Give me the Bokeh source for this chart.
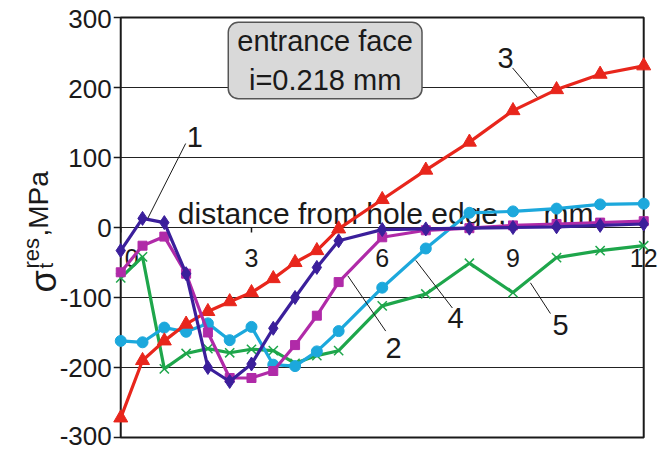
import numpy as np
from bokeh.plotting import figure
from bokeh.models import Range1d
from bokeh.core.properties import value
from bokeh.embed import file_html
from bokeh.resources import INLINE

# ---------------- data ----------------
distance = [0, 0.5, 1, 1.5, 2, 2.5, 3, 3.5, 4, 4.5, 5, 6, 7, 8, 9, 10, 11, 12]
curve1 = [-33, 13, 7, -66, -200, -220, -195, -144, -100, -57, -19, -3, -2, -1, 0, 1, 3, 5]
curve2 = [-64, -26, -13, -66, -150, -215, -215, -205, -168, -126, -78, -14, -4, -1, 3, 5, 7, 9]
curve3 = [-272, -190, -162, -138, -120, -106, -93, -73, -50, -33, -2, 40, 82, 122, 167, 197, 219, 231]
curve4 = [-162, -164, -143, -149, -137, -161, -142, -196, -198, -177, -148, -86, -30, 21, 23, 27, 33, 34]
curve5 = [-72, -42, -202, -180, -173, -179, -174, -176, -194, -183, -176, -112, -95, -51, -93, -43, -33, -26]

y_ticks = [-300, -200, -100, 0, 100, 200, 300]
y_tick_labels = ["-300", "-200", "-100", "0", "100", "200", "300"]
x_ticks = [0, 3, 6, 9, 12]
x_tick_labels = ["0", "3", "6", "9", "12"]

curve_names = ["1", "2", "3", "4", "5"]
# annotation number positions and leader lines (data coords)
name_x = [1.70, 6.26, 8.83, 7.68, 10.09]
name_y = [130, -172, 242, -130, -140]
lead_x0 = [1.49, 5.21, 8.99, 6.77, 9.40]
lead_y0 = [120, -69, 228, -47, -79]
lead_x1 = [0.62, 6.08, 9.56, 7.61, 9.86]
lead_y1 = [13, -148, 186, -115, -123]

FONT = "Liberation Sans"
INK = "#1a1a1a"

# the frame covers the whole canvas; the ranges place the chart box where it belongs
p = figure(width=661, height=450,
           x_range=Range1d(-2.759, 12.408), y_range=Range1d(-318.6, 324.3),
           output_backend="svg", toolbar_location=None,
           x_axis_location=None, y_axis_location=None, title=None,
           min_border_left=0, min_border_right=0,
           min_border_top=0, min_border_bottom=0)
p.outline_line_color = None
p.grid.visible = False
p.background_fill_color = "white"
p.border_fill_color = "white"

# horizontal grid lines and chart box
p.segment(x0=x_ticks[0], x1=x_ticks[-1], y0=y_ticks[1:-1], y1=y_ticks[1:-1],
          line_color="#222222", line_width=1.2)
p.quad(left=[x_ticks[0]], right=[x_ticks[-1]], bottom=[y_ticks[0]], top=[y_ticks[-1]],
       fill_color=None, line_color=INK, line_width=2)

# y axis ticks and labels (axis line is the box's left edge at x = 0)
p.ray(x=x_ticks[0], y=y_ticks, length=7, length_units="screen", angle=np.pi,
      line_color=INK, line_width=1.5)
p.text(x=x_ticks[0], y=y_ticks[1:], text=y_tick_labels[1:], text_align="right",
       text_baseline="middle", x_offset=-9, y_offset=1, text_font=value(FONT),
       text_font_size="26px", text_color=INK)
p.text(x=x_ticks[0], y=y_ticks[:1], text=y_tick_labels[:1], text_align="right",
       text_baseline="bottom", x_offset=-9, y_offset=8, text_font=value(FONT),
       text_font_size="26px", text_color=INK)

# x ticks at y = 0
p.ray(x=x_ticks, y=0, length=5, length_units="screen", angle=-np.pi / 2,
      line_color=INK, line_width=1.5)
p.text(x=x_ticks[1:], y=0, text=x_tick_labels[1:], text_align="center",
       text_baseline="alphabetic", y_offset=31, text_font=value(FONT),
       text_font_size="25px", text_color=INK)
p.text(x=x_ticks[:1], y=0, text=x_tick_labels[:1], text_align="center",
       text_baseline="alphabetic", x_offset=11, y_offset=31, text_font=value(FONT),
       text_font_size="25px", text_color=INK)

# x axis title inside plot
p.text(x=[1.31], y=[20], text=["distance from hole edge,"], text_align="left",
       text_baseline="alphabetic", text_font=value(FONT), text_font_size="30px",
       text_color=INK)
p.text(x=[9.70], y=[20], text=["mm"], text_align="left",
       text_baseline="alphabetic", text_font=value(FONT), text_font_size="30px",
       text_color=INK)

# series
lw = 3.2
p.line(distance, curve5, line_color="#1ea64b", line_width=lw)
p.scatter(distance, curve5, marker="x", size=13, line_color="#1ea64b", line_width=1.5)
p.line(distance, curve4, line_color="#1ca8dc", line_width=lw)
p.scatter(distance, curve4, marker="circle", size=11, fill_color="#1ca8dc", line_color="#1ca8dc")
p.line(distance, curve3, line_color="#e8261c", line_width=lw)
p.scatter(distance, curve3, marker="triangle", size=14, fill_color="#e8261c", line_color="#e8261c")
p.line(distance, curve2, line_color="#b02aa8", line_width=lw)
p.scatter(distance, curve2, marker="square", size=9, fill_color="#b02aa8", line_color="#b02aa8")
p.line(distance, curve1, line_color="#3b1f9b", line_width=lw)
p.scatter(distance, curve1, marker="diamond", size=14, fill_color="#3b1f9b", line_color="#3b1f9b")

# leader lines and curve numbers
p.segment(x0=lead_x0, y0=lead_y0, x1=lead_x1, y1=lead_y1, line_color=INK, line_width=1)
p.text(x=name_x, y=name_y, text=curve_names, text_align="center", text_baseline="middle",
       text_font=value(FONT), text_font_size="29px", text_color=INK)

# info box
p.text(x=[4.69], y=[238.5], text=["entrance face\ni=0.218 mm"], text_align="center",
       text_baseline="middle", text_font=value(FONT), text_font_size="29px",
       text_color=INK, text_line_height=1.2,
       background_fill_color="#d9d9d9", border_line_color="#555555",
       border_line_width=1.5, border_radius=10, padding=(9, 3))

# y axis title (rotated), built from pieces: sigma, superscript, subscript, unit
p.text(x=[-1.773], y=[-92.9], text=["σ"], angle=np.pi / 2, text_align="left",
       text_baseline="alphabetic", text_font=value(FONT), text_font_size="36px",
       text_color=INK)
p.text(x=[-2.048], y=[-58.6], text=["res"], angle=np.pi / 2, text_align="left",
       text_baseline="alphabetic", text_font=value(FONT), text_font_size="22px",
       text_color=INK)
p.text(x=[-1.704], y=[-58.6], text=["t"], angle=np.pi / 2, text_align="left",
       text_baseline="alphabetic", text_font=value(FONT), text_font_size="20px",
       text_color=INK)
p.text(x=[-1.893], y=[-12.9], text=[",MPa"], angle=np.pi / 2, text_align="left",
       text_baseline="alphabetic", text_font=value(FONT), text_font_size="28px",
       text_color=INK)

open("out.html", "w").write(file_html(p, INLINE))
